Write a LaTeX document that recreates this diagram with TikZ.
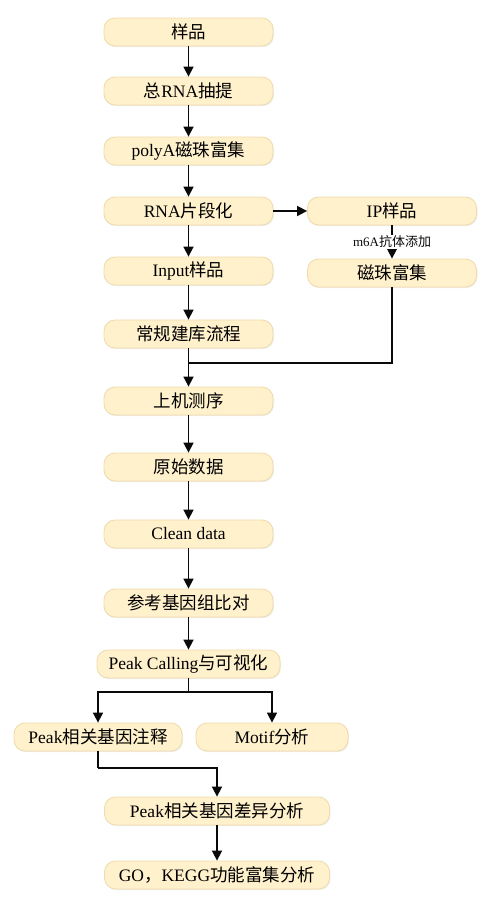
\documentclass[tikz,border=0pt]{standalone}
\usepackage{fontspec}
\setmainfont{Liberation Serif}
\newfontfamily\cjk{Noto Sans CJK SC}
\usepackage{tikz}
\usetikzlibrary{arrows.meta,positioning,calc,shadows}
\definecolor{boxfill}{RGB}{255, 241, 204}
\definecolor{boxline}{RGB}{238, 218, 170}
\definecolor{linkdark}{RGB}{10, 10, 10}
\newcommand{\zh}[1]{{\cjk #1}}

\tikzset{
    stepbox/.style={draw=boxline, fill=boxfill, line width=0.8pt, rounded corners=11pt,
        minimum width=169pt, minimum height=28pt, inner sep=1pt, font=\fontsize{17.5pt}{19pt}\selectfont,
        drop shadow={shadow xshift=1pt, shadow yshift=-1.2pt, fill=black!12}},
    link/.style={line width=1.6pt, color=linkdark, -{Triangle[width=10pt,length=10pt]}},
    plainlink/.style={line width=1.6pt, color=linkdark}
}

\begin{document}
\begin{tikzpicture}[x=1pt, y=1pt]
    \useasboundingbox (0,0) rectangle (487,-905);

    % main column
    \node[stepbox] (sample) at (188.5,-32) {\zh{样品}};
    \node[stepbox] (totalrna) at (188.5,-91) {\zh{总}RNA\zh{抽提}};
    \node[stepbox] (polya) at (188.5,-151) {polyA\zh{磁珠富集}};
    \node[stepbox] (frag) at (188.5,-211) {RNA\zh{片段化}};
    \node[stepbox] (input) at (188.5,-271) {Input\zh{样品}};
    \node[stepbox] (library) at (188.5,-334) {\zh{常规建库流程}};
    \node[stepbox] (sequencing) at (188.5,-401) {\zh{上机测序}};
    \node[stepbox] (rawdata) at (188.5,-467) {\zh{原始数据}};
    \node[stepbox] (cleandata) at (188.5,-534) {Clean data};
    \node[stepbox] (mapping) at (188.5,-603) {\zh{参考基因组比对}};
    \node[stepbox, minimum width=183pt] (peakcall) at (188.5,-664) {Peak Calling\zh{与可视化}};

    % IP branch
    \node[stepbox] (ipsample) at (392,-211) {IP\zh{样品}};
    \node[stepbox] (beads) at (392,-273) {\zh{磁珠富集}};

    % downstream analysis
    \node[stepbox, minimum width=168pt] (annot) at (98,-737) {Peak\zh{相关基因注释}};
    \node[stepbox, minimum width=152pt] (motif) at (272,-737) {Motif\zh{分析}};
    \node[stepbox, minimum width=225pt] (diffpeak) at (217,-811) {Peak\zh{相关基因差异分析}};
    \node[stepbox, minimum width=225pt] (enrich) at (217,-875) {GO\zh{，}KEGG\zh{功能富集分析}};

    % main arrows
    \draw[link] (sample) -- (totalrna);
    \draw[link] (totalrna) -- (polya);
    \draw[link] (polya) -- (frag);
    \draw[link] (frag) -- (input);
    \draw[link] (input) -- (library);
    \draw[link] (library) -- (sequencing);
    \draw[link] (sequencing) -- (rawdata);
    \draw[link] (rawdata) -- (cleandata);
    \draw[link] (cleandata) -- (mapping);
    \draw[link] (mapping) -- (peakcall);

    % IP branch arrows
    \draw[link] (frag) -- (ipsample);
    \draw[link] (ipsample) -- node[fill=white, inner sep=1pt, font=\fontsize{13pt}{14pt}\selectfont] (antibody) {m6A\zh{抗体添加}} (beads);
    \coordinate (merge) at (188.5,-363);
    \draw[plainlink] (beads.south) |- (merge);

    % split after peak calling
    \coordinate (split) at (188.5,-692);
    \draw[plainlink] (peakcall.south) -- (split);
    \draw[link] (split) -| (annot.north);
    \draw[link] (split) -| (motif.north);

    % annotation to differential analysis
    \coordinate (turn) at (98,-768);
    \draw[plainlink] (annot.south) -- (turn);
    \draw[link] (turn) -| (diffpeak.north);
    \draw[link] (diffpeak) -- (enrich);
\end{tikzpicture}
\end{document}
